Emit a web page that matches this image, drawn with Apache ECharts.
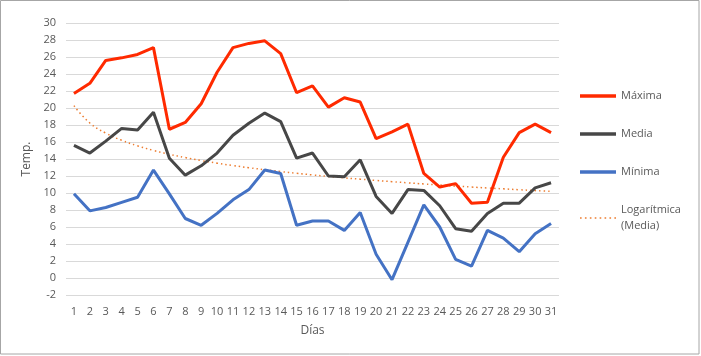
<!DOCTYPE html>
<html>
<head>
<meta charset="utf-8">
<script src="https://cdn.jsdelivr.net/npm/echarts@6/dist/echarts.min.js"></script>
<style>
html,body{margin:0;padding:0;background:#fff;}
#c{width:701px;height:356px;}
</style>
</head>
<body>
<div id="c"></div>
<script>
const dias = ['1','2','3','4','5','6','7','8','9','10','11','12','13','14','15','16','17','18','19','20','21','22','23','24','25','26','27','28','29','30','31'];
const maxima = [21.7,22.9,25.6,25.9,26.3,27.1,17.5,18.3,20.5,24.2,27.1,27.6,27.9,26.4,21.8,22.6,20.1,21.2,20.7,16.4,17.2,18.1,12.3,10.7,11.1,8.8,8.9,14.2,17.1,18.1,17.1];
const media = [15.6,14.7,16.1,17.6,17.4,19.5,14.1,12.1,13.2,14.7,16.8,18.2,19.4,18.4,14.1,14.7,12.0,11.9,13.9,9.6,7.6,10.4,10.3,8.5,5.8,5.5,7.6,8.8,8.8,10.6,11.2];
const minima = [9.9,7.9,8.3,8.9,9.5,12.7,9.9,7.0,6.2,7.6,9.2,10.4,12.7,12.3,6.2,6.7,6.7,5.6,7.7,2.8,-0.2,4.2,8.6,6.0,2.2,1.4,5.6,4.7,3.1,5.2,6.4];

// Logarithmic trend fitted to Media (least squares on ln(x))
function logFit(vals){
  const n = vals.length;
  let sL=0,sY=0,sLL=0,sLY=0;
  for(let i=0;i<n;i++){const L=Math.log(i+1);sL+=L;sY+=vals[i];sLL+=L*L;sLY+=L*vals[i];}
  const a=(n*sLY-sL*sY)/(n*sLL-sL*sL);
  const b=(sY-a*sL)/n;
  return vals.map((v,i)=>+(a*Math.log(i+1)+b).toFixed(3));
}
const tendencia = logFit(media);

const chart = echarts.init(document.getElementById('c'));
const txt = '#595959';
chart.setOption({
  animation:false,
  textStyle:{fontFamily:'"Open Sans", Calibri, sans-serif'},
  graphic:[{type:'rect',shape:{x:0.5,y:0.5,width:698.5,height:353.5},style:{fill:'none',stroke:'#A6A6A6',lineWidth:1},z:-1}],
  grid:{left:66,right:142,top:23,bottom:61},
  legend:{
    orient:'vertical',left:575,top:83,itemGap:22,itemWidth:36,itemHeight:12,
    textStyle:{color:txt,fontSize:11,lineHeight:16},
    data:[
      {name:'Máxima',icon:'path://M0,0H36V3.5H0Z'},
      {name:'Media',icon:'path://M0,0H36V3.5H0Z'},
      {name:'Mínima',icon:'path://M0,0H36V3.5H0Z'},
      {name:'Logarítmica\n(Media)',icon:'path://M0,0H1.5V1.5H0ZM4.5,0H6V1.5H4.5ZM9,0H10.5V1.5H9ZM13.5,0H15V1.5H13.5ZM18,0H19.5V1.5H18ZM22.5,0H24V1.5H22.5ZM27,0H28.5V1.5H27ZM31.5,0H33V1.5H31.5Z'}
    ]
  },
  xAxis:{
    type:'category',data:dias,boundaryGap:true,
    name:'Días',nameLocation:'middle',nameGap:30,
    nameTextStyle:{color:txt,fontSize:12},
    axisLine:{show:false},axisTick:{show:false},
    axisLabel:{color:txt,fontSize:11,margin:11,interval:0}
  },
  yAxis:{
    type:'value',min:-2,max:30,interval:2,
    name:'Temp.',nameLocation:'middle',nameGap:31,nameRotate:90,
    nameTextStyle:{color:txt,fontSize:12},
    axisLine:{show:false},axisTick:{show:false},
    axisLabel:{color:txt,fontSize:11,margin:10},
    splitLine:{lineStyle:{color:'#D9D9D9',width:1}}
  },
  series:[
    {name:'Máxima',type:'line',data:maxima,symbol:'none',lineStyle:{color:'#FF2A00',width:3},itemStyle:{color:'#FF2A00'},z:3},
    {name:'Media',type:'line',data:media,symbol:'none',lineStyle:{color:'#474747',width:3},itemStyle:{color:'#474747'},z:3},
    {name:'Mínima',type:'line',data:minima,symbol:'none',lineStyle:{color:'#4472C4',width:3},itemStyle:{color:'#4472C4'},z:3},
    {name:'Logarítmica\n(Media)',type:'line',data:tendencia,symbol:'none',smooth:true,lineStyle:{color:'#ED7D31',width:1.5,type:[1.5,3]},itemStyle:{color:'#ED7D31'},z:2}
  ]
});
</script>
</body>
</html>
